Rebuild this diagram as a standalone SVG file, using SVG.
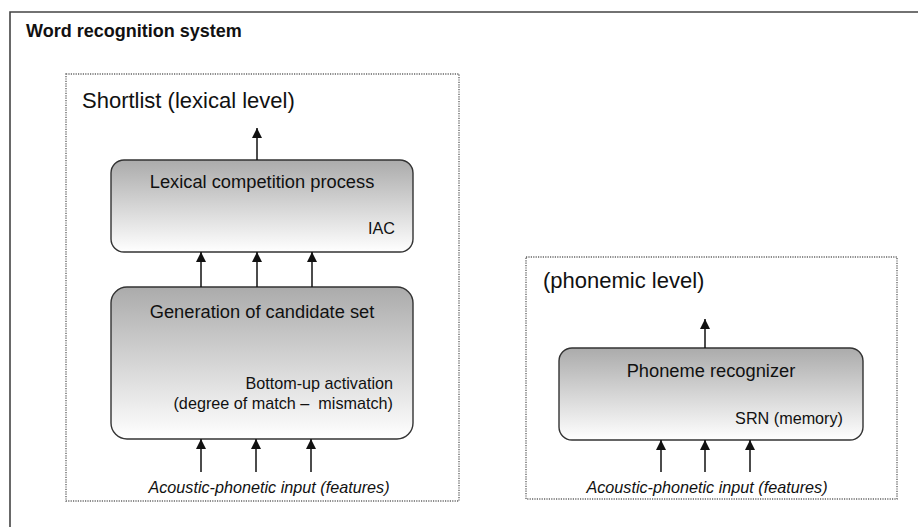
<svg xmlns="http://www.w3.org/2000/svg" width="918" height="527" viewBox="0 0 918 527">
  <style>
    .frame { fill: none; stroke: #444; stroke-width: 1.6; }
    .level { fill: none; stroke: #666; stroke-width: 1.4; stroke-dasharray: 1.2 1.2; }
    .proc { fill: url(#shade); stroke: #333; stroke-width: 1.4; }
    .conn { stroke: #111; stroke-width: 1.5; fill: none; marker-end: url(#head); }
    text { font-family: "Liberation Sans", Arial, sans-serif; fill: #111; white-space: pre; }
    .title { font-size: 18px; font-weight: bold; }
    .lvl { font-size: 22px; }
    .name { font-size: 18.3px; text-anchor: middle; }
    .note { font-size: 16.2px; text-anchor: end; }
    .input { font-size: 16.2px; font-style: italic; text-anchor: middle; }
  </style>
  <defs>
    <linearGradient id="shade" x1="0" y1="0" x2="0" y2="1">
      <stop offset="0" stop-color="#ababab"/>
      <stop offset="1" stop-color="#ffffff"/>
    </linearGradient>
    <marker id="head" viewBox="0 0 10 14" refX="10" refY="7" markerWidth="10" markerHeight="14" markerUnits="userSpaceOnUse" orient="auto">
      <path d="M0,2 L10,7 L0,12 Z" fill="#111"/>
    </marker>
  </defs>

  <rect width="918" height="527" fill="#ffffff"/>

  <!-- outer system frame (open on right and bottom) -->
  <path class="frame" d="M10,527 L10,12 L918,12"/>
  <text class="title" x="26" y="37">Word recognition system</text>

  <!-- lexical level -->
  <g id="shortlist">
    <rect class="level" x="66" y="74" width="393" height="427"/>
    <text class="lvl" x="82" y="108">Shortlist (lexical level)</text>
  </g>

  <g id="lexical-competition">
    <rect class="proc" x="111" y="160" width="302" height="92" rx="13"/>
    <text class="name" x="262" y="188">Lexical competition process</text>
    <text class="note" x="395" y="234">IAC</text>
  </g>

  <g id="candidate-generation">
    <rect class="proc" x="111" y="287" width="302" height="152" rx="16"/>
    <text class="name" x="262" y="318">Generation of candidate set</text>
    <text class="note" x="393" y="389">Bottom-up activation</text>
    <text class="note" x="393" y="409">(degree of match –  mismatch)</text>
  </g>

  <g id="lexical-input">
    <text class="input" x="269" y="493">Acoustic-phonetic input (features)</text>
  </g>

  <!-- phonemic level -->
  <g id="phonemic">
    <rect class="level" x="526" y="257" width="371" height="242"/>
    <text class="lvl" x="543" y="288">(phonemic level)</text>
  </g>

  <g id="phoneme-recognizer">
    <rect class="proc" x="559" y="348" width="304" height="92" rx="13"/>
    <text class="name" x="711" y="377">Phoneme recognizer</text>
    <text class="note" x="843" y="424">SRN (memory)</text>
  </g>

  <g id="phonemic-input">
    <text class="input" x="707" y="493">Acoustic-phonetic input (features)</text>
  </g>

  <!-- connectors -->
  <g id="connectors">
    <line class="conn" x1="257" y1="160" x2="257" y2="128"/>
    <line class="conn" x1="201" y1="287" x2="201" y2="252"/>
    <line class="conn" x1="257" y1="287" x2="257" y2="252"/>
    <line class="conn" x1="312" y1="287" x2="312" y2="252"/>
    <line class="conn" x1="201" y1="472" x2="201" y2="439"/>
    <line class="conn" x1="256" y1="472" x2="256" y2="439"/>
    <line class="conn" x1="311" y1="472" x2="311" y2="439"/>
    <line class="conn" x1="705" y1="348" x2="705" y2="319"/>
    <line class="conn" x1="661" y1="472" x2="661" y2="440"/>
    <line class="conn" x1="705" y1="472" x2="705" y2="440"/>
    <line class="conn" x1="750" y1="472" x2="750" y2="440"/>
  </g>
</svg>
